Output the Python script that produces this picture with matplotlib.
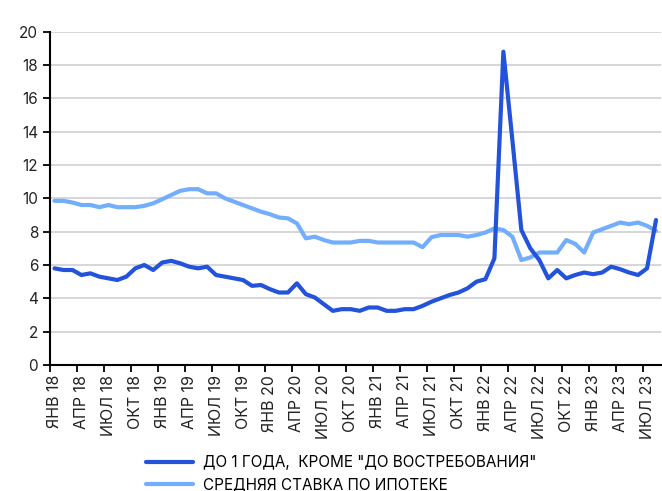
import matplotlib
matplotlib.use("Agg")
import matplotlib.pyplot as plt
import numpy as np

plt.rcParams['font.family'] = ['Inter', 'DejaVu Sans']

# месячные данные, янв 2018 - авг 2023
deposit_rate = [5.8, 5.7, 5.7, 5.4, 5.5, 5.3, 5.2, 5.1, 5.3, 5.8, 6.0, 5.7,
                6.15, 6.25, 6.1, 5.9, 5.8, 5.9, 5.4, 5.3, 5.2, 5.1, 4.75, 4.8,
                4.55, 4.35, 4.35, 4.9, 4.25, 4.05, 3.65, 3.25, 3.35, 3.35, 3.25, 3.45,
                3.45, 3.25, 3.25, 3.35, 3.35, 3.55, 3.8, 4.0, 4.2, 4.35, 4.6, 5.0,
                5.15, 6.4, 18.8, 13.5, 8.1, 7.0, 6.3, 5.2, 5.7, 5.2, 5.4, 5.55,
                5.45, 5.55, 5.9, 5.75, 5.55, 5.4, 5.8, 8.7]
mortgage_rate = [9.85, 9.85, 9.75, 9.6, 9.6, 9.47, 9.6, 9.47, 9.47, 9.47, 9.55, 9.7,
                 9.95, 10.2, 10.45, 10.55, 10.55, 10.3, 10.3, 10.0, 9.8, 9.6, 9.4, 9.2,
                 9.05, 8.85, 8.8, 8.5, 7.6, 7.7, 7.5, 7.35, 7.35, 7.35, 7.45, 7.45,
                 7.35, 7.35, 7.35, 7.35, 7.35, 7.07, 7.67, 7.8, 7.8, 7.8, 7.7, 7.8,
                 7.95, 8.2, 8.1, 7.7, 6.3, 6.45, 6.75, 6.75, 6.75, 7.5, 7.27, 6.75,
                 7.95, 8.15, 8.35, 8.55, 8.45, 8.55, 8.35, 8.05]

months = ['ЯНВ', 'АПР', 'ИЮЛ', 'ОКТ']
tick_labels = [f'{m} {y}' for y in range(18, 24) for m in months][:23]

label_deposit = 'ДО 1 ГОДА,  КРОМЕ "ДО ВОСТРЕБОВАНИЯ"'
label_mortgage = 'СРЕДНЯЯ СТАВКА ПО ИПОТЕКЕ'

c_dark = '#2253DA'
c_light = '#72AEFB'

fig = plt.figure(figsize=(6.62, 4.91), dpi=100)
ax = fig.add_axes([50 / 662, 1 - 365 / 491, 610.5 / 662, 333.3 / 491])

x = np.arange(len(deposit_rate))
ax.plot(x, deposit_rate, color=c_dark, lw=3, label=label_deposit, solid_capstyle='round', zorder=3)
ax.plot(x, mortgage_rate, color=c_light, lw=3, label=label_mortgage, solid_capstyle='round', zorder=2)

ax.set_xlim(-0.5, len(x) - 0.5)
ax.set_ylim(0, 20)
ax.set_yticks(np.arange(0, 21, 2))
ax.yaxis.grid(True, color='#D3D3D8', lw=1.3)
ax.set_axisbelow(True)

ax.set_xticks(np.arange(0, 3 * len(tick_labels), 3))
ax.set_xticklabels(tick_labels, rotation=90)
ax.set_xticks(np.arange(-0.5, len(x), 3), minor=True)
ax.tick_params(axis='x', which='major', length=0, pad=7, labelsize=11.5, colors='#222222')
ax.tick_params(axis='x', which='minor', length=5, width=1.3, direction='out')
ax.tick_params(axis='y', length=5, width=1.3, direction='out', labelsize=11, labelcolor='#222222')

for s in ['top', 'right']:
    ax.spines[s].set_visible(False)
for s in ['left', 'bottom']:
    ax.spines[s].set_linewidth(1.5)

fig.legend(loc='upper left', bbox_to_anchor=(146 / 662, 1 - 455 / 491), frameon=False,
           fontsize=11, handlelength=3.1, handletextpad=0.6, labelspacing=0.45,
           borderaxespad=0, borderpad=0)

fig.savefig('out.png', dpi=100)
